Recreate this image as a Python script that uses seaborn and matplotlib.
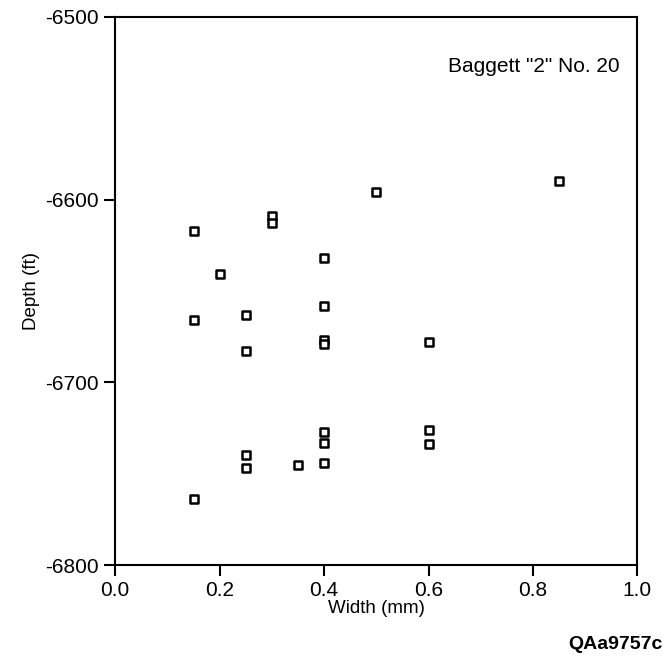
import matplotlib
matplotlib.use("Agg")
import matplotlib.pyplot as plt
import seaborn as sns
import pandas as pd

# fracture width vs depth, Baggett "2" No. 20
width_mm = [0.85, 0.50, 0.30, 0.30, 0.15, 0.40, 0.20, 0.40, 0.25, 0.15,
            0.40, 0.40, 0.60, 0.25, 0.40, 0.60, 0.40, 0.60, 0.25, 0.35,
            0.40, 0.25, 0.15]
depth_ft = [-6590, -6596, -6609, -6613, -6617, -6632, -6641, -6658, -6663, -6666,
            -6677, -6679, -6678, -6683, -6727, -6726, -6733, -6734, -6740, -6745,
            -6744, -6747, -6764]

x_ticks = [0.0, 0.2, 0.4, 0.6, 0.8, 1.0]
y_ticks = [-6800, -6700, -6600, -6500]

df = pd.DataFrame({"Width": width_mm, "Depth": depth_ft})

sns.set_style("ticks")
plt.rcParams['font.family'] = ['Liberation Sans', 'DejaVu Sans']
plt.rcParams['text.color'] = 'black'
plt.rcParams['axes.labelcolor'] = 'black'

fig = plt.figure(figsize=(6.66, 6.68), dpi=100)
ax = fig.add_axes([0.173, 0.154, 0.784, 0.821])

sns.scatterplot(data=df, x="Width", y="Depth", marker="s", s=36,
                facecolor="white", edgecolor="black", linewidth=1.8, ax=ax)

ax.set_xlim(0, 1.0)
ax.set_ylim(-6800, -6500)
ax.set_xticks(x_ticks)
ax.set_xticklabels([f"{t:.1f}" for t in x_ticks])
ax.set_yticks(y_ticks)
ax.set_yticklabels([str(t) for t in y_ticks])
ax.tick_params(direction="out", length=8, width=1.5, labelsize=15, colors="black")
for sp in ax.spines.values():
    sp.set_linewidth(1.5)
    sp.set_color("black")

ax.set_xlabel("Width (mm)", fontsize=13.5, labelpad=0)
ax.set_ylabel("Depth (ft)", fontsize=13.5, labelpad=4)

ax.text(0.966, 0.91, 'Baggett "2" No. 20', transform=ax.transAxes,
        ha="right", va="center", fontsize=15)
fig.text(0.995, 0.035, "QAa9757c", ha="right", va="center",
         fontsize=14, fontweight="bold")

fig.savefig("out.png", dpi=100)
